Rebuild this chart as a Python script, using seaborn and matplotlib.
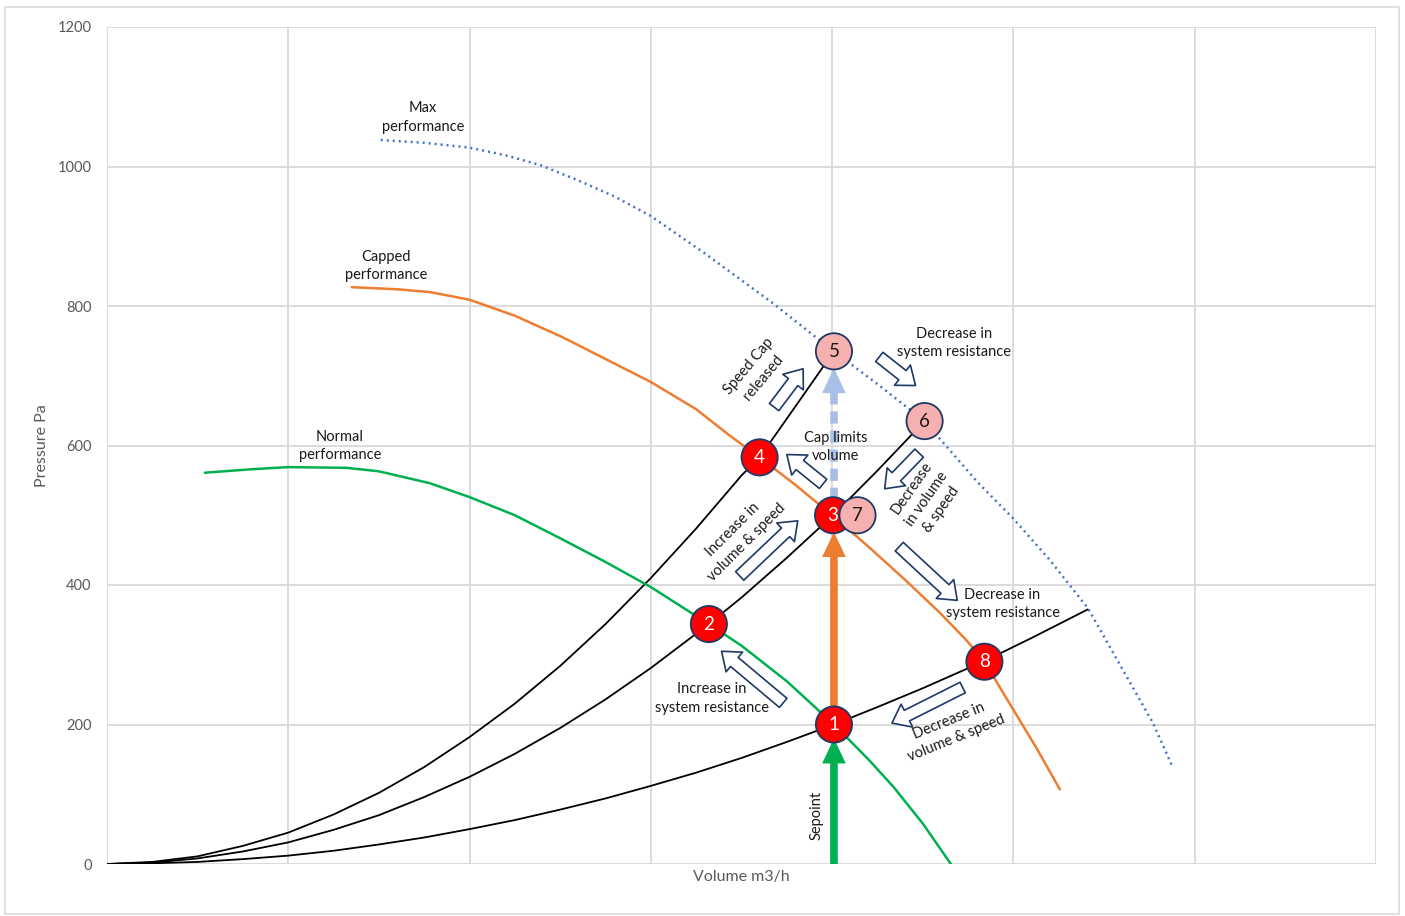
import numpy as np
import pandas as pd
import seaborn as sns
import matplotlib
matplotlib.use("Agg")
from matplotlib import pyplot as plt
from matplotlib.patches import FancyArrowPatch, Rectangle

# fan curves (x in grid units, y in Pa)
normal_x = [0.54, 0.8, 1.0, 1.32, 1.5, 1.78, 2.0, 2.25, 2.5, 2.75, 3.0, 3.32, 3.5, 3.75, 4.01, 4.2, 4.34, 4.5, 4.655]
normal_y = [561, 566, 569, 568, 563, 546, 526, 500, 467, 433, 397, 344, 313, 262, 200, 150, 110, 58, 0]
capped_x = [1.35, 1.6, 1.78, 2.0, 2.25, 2.515, 2.75, 3.0, 3.25, 3.436, 3.6, 3.8, 4.0, 4.2, 4.4, 4.595,
            4.74, 4.84, 5.0, 5.13, 5.256]
capped_y = [827, 824, 820, 809, 786, 755, 724, 691, 652, 614, 583, 543, 500, 455, 408, 360,
            321, 290, 221, 165, 107]
max_x = [1.51, 1.75, 2.0, 2.2, 2.39, 2.6, 2.8, 3.0, 3.3, 3.673, 3.916, 4.01, 4.25, 4.51, 4.8, 5.0,
         5.2, 5.41, 5.6, 5.77, 5.88]
max_y = [1038, 1034, 1027, 1016, 1002, 980, 957, 929, 875, 804, 754, 735, 688, 635, 548, 495,
         436, 367, 280, 202, 138]

# system resistance curves
sysA_x = [0, 0.25, 0.5, 0.75, 1, 1.25, 1.5, 1.75, 2, 2.25, 2.5, 2.75, 3, 3.25, 3.5, 3.75, 4.01,
          4.25, 4.5, 4.84, 5.1, 5.41]
sysA_y = [0, 1, 3, 7, 12, 19, 28, 38, 50, 63, 78, 94, 112, 131, 152, 175, 200,
          225, 252, 291, 324, 365]
sysB_x = [0, 0.25, 0.5, 0.75, 1, 1.25, 1.5, 1.75, 2, 2.25, 2.5, 2.75, 3, 3.32, 3.5, 3.75, 4.005,
          4.25, 4.51]
sysB_y = [0, 2, 8, 18, 31, 49, 70, 96, 125, 158, 195, 236, 281, 344, 382, 439, 500,
          564, 635]
sysC_x = [0, 0.25, 0.5, 0.75, 1, 1.25, 1.5, 1.75, 2, 2.25, 2.5, 2.75, 3, 3.25, 3.5, 3.6, 3.8, 4.01]
sysC_y = [0, 3, 11, 26, 45, 71, 102, 139, 182, 230, 284, 344, 410, 481, 557, 583, 657, 735]

# operating points
pt_labels = ["1", "2", "3", "4", "5", "6", "7", "8"]
pt_x = [4.01, 3.32, 4.005, 3.6, 4.01, 4.51, 4.14, 4.84]
pt_y = [200, 344, 500, 583, 735, 635, 500, 290]
pt_kind = ["run", "run", "run", "run", "max", "max", "max", "run"]

y_ticks = [0, 200, 400, 600, 800, 1000, 1200]
x_grid = [0, 1, 2, 3, 4, 5, 6, 7]

# curve labels: text, x, y, rotation
notes = [
    ("Max\nperformance", 1.743, 1070, 0),
    ("Capped\nperformance", 1.539, 857, 0),
    ("Normal\nperformance", 1.285, 599, 0),
    ("Speed Cap\nreleased", 3.58, 706, 50),
    ("Decrease in\nsystem resistance", 4.67, 747, 0),
    ("Cap limits\nvolume", 4.02, 598, 0),
    ("Decrease\nin volume\n& speed", 4.52, 524, 55),
    ("Increase in\nvolume & speed", 3.49, 470, 45),
    ("Decrease in\nsystem resistance", 4.94, 373, 0),
    ("Increase in\nsystem resistance", 3.337, 237, 0),
    ("Decrease in\nvolume & speed", 4.665, 193, 22),
    ("Sepoint", 3.916, 70, 90),
]

# hollow arrows: tail (x, y) -> tip (x, y)
hollow = [
    ((3.68, 655), (3.84, 710)),
    ((4.26, 727), (4.46, 686)),
    ((3.95, 545), (3.75, 587)),
    ((4.48, 589), (4.29, 538)),
    ((3.49, 413), (3.81, 492)),
    ((4.37, 455), (4.69, 378)),
    ((3.73, 231), (3.39, 305)),
    ((4.72, 253), (4.33, 202)),
]

sns.set_theme(style="whitegrid")
plt.rcParams['font.family'] = ['Lato', 'DejaVu Sans']

fig = plt.figure(figsize=(14.05, 9.16), dpi=100)
ax = fig.add_axes([107 / 1405, 1 - 864 / 916, (1376 - 107) / 1405, (864 - 27) / 916])
fig.patches.append(Rectangle((5 / 1405, 1 - 914 / 916), 1394 / 1405, 907 / 916,
                             transform=fig.transFigure, fill=False, ec="#D9D9D9", lw=1.2))

grid_c = "#D9D9D9"
navy = "#1F3864"

for xs, ys in [(sysA_x, sysA_y), (sysB_x, sysB_y), (sysC_x, sysC_y)]:
    sns.lineplot(x=xs, y=ys, ax=ax, color="black", lw=1.3, sort=False, estimator=None)
sns.lineplot(x=normal_x, y=normal_y, ax=ax, color="#00B050", lw=1.8, sort=False, estimator=None)
sns.lineplot(x=capped_x, y=capped_y, ax=ax, color="#ED7D31", lw=1.8, sort=False, estimator=None)
sns.lineplot(x=max_x, y=max_y, ax=ax, color="#4472C4", lw=1.8, sort=False, estimator=None,
             linestyle=(0, (0.8, 1.6)))

# vertical arrows at setpoint
sx = pt_x[0]
ax.add_patch(FancyArrowPatch((sx, 0), (sx, 180), arrowstyle="simple,head_width=1.7,head_length=1.8,tail_width=0.55",
                             mutation_scale=10, color="#00B050", lw=0, shrinkA=0, shrinkB=0, zorder=3))
ax.add_patch(FancyArrowPatch((sx, 222), (sx, 476), arrowstyle="simple,head_width=1.7,head_length=1.8,tail_width=0.55",
                             mutation_scale=10, color="#ED7D31", lw=0, shrinkA=0, shrinkB=0, zorder=3))
ax.plot([sx, sx], [522, 690], color="#A9BFE6", lw=5.5, ls=(0, (1.6, 0.9)), solid_capstyle="butt", zorder=3)
ax.add_patch(FancyArrowPatch((sx, 680), (sx, 711), arrowstyle="simple,head_width=1.7,head_length=1.8,tail_width=0.01",
                             mutation_scale=10, color="#A9BFE6", lw=0, shrinkA=0, shrinkB=0, zorder=3))

for a, b in hollow:
    ax.add_patch(FancyArrowPatch(a, b, arrowstyle="simple,head_width=1.85,head_length=1.2,tail_width=0.85",
                                 mutation_scale=10, fc="white", ec=navy, lw=1.2, shrinkA=0, shrinkB=0, zorder=4))

pts = pd.DataFrame({"x": pt_x, "y": pt_y, "kind": pt_kind, "label": pt_labels})
pal = {"run": "#FF0000", "max": "#F7B0B0"}
sns.scatterplot(data=pts.iloc[:6], x="x", y="y", hue="kind", palette=pal,
                s=680, edgecolor=navy, linewidth=1.3, ax=ax, legend=False, zorder=5)
sns.scatterplot(data=pts.iloc[6:], x="x", y="y", hue="kind", palette=pal,
                s=680, edgecolor=navy, linewidth=1.3, ax=ax, legend=False, zorder=6)
for _, r in pts.iterrows():
    ax.text(r["x"], r["y"], r["label"], ha="center", va="center", fontsize=13.5,
            color="white" if r["kind"] == "run" else "#1a1a1a", zorder=7)

for txt, x, y, rot in notes:
    ax.text(x, y, txt, ha="center", va="center", fontsize=10.5, color="#1a1a1a", rotation=rot,
            rotation_mode="anchor", linespacing=1.4, zorder=8)

ax.set_xlim(0, 7)
ax.set_ylim(0, 1200)
ax.set_xticks(x_grid)
ax.set_xticklabels([])
ax.set_yticks(y_ticks)
ax.set_yticklabels([str(v) for v in y_ticks], color="#595959", fontsize=10.5)
ax.tick_params(axis="y", length=0, pad=11)
ax.tick_params(axis="x", length=0, pad=0)
ax.grid(True, color=grid_c, lw=1.3)
for s in ax.spines.values():
    s.set_visible(False)
ax.set_xlabel("Volume m3/h", color="#595959", fontsize=11.5, labelpad=4)
ax.set_ylabel("Pressure Pa", color="#595959", fontsize=11.5, labelpad=6)
ax.set_facecolor("white")

fig.savefig("out.png", dpi=100, facecolor="white")
